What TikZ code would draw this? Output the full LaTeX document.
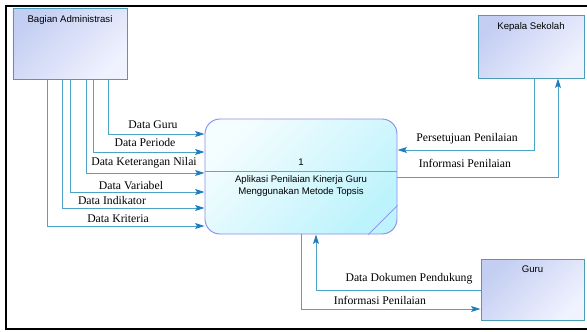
\documentclass[tikz,border=0pt]{standalone}
\usepackage{fontspec}
\setmainfont{Liberation Serif}
\setsansfont{Liberation Sans}
\usetikzlibrary{arrows.meta}

\definecolor{garis}{HTML}{4BA3C8}
\definecolor{panah}{HTML}{1F7DBF}
\definecolor{tepientitas}{HTML}{4A9DB5}
\definecolor{entitasatas}{HTML}{C3CEF2}
\definecolor{entitasbawah}{HTML}{F0F2FE}
\definecolor{tepiproses}{HTML}{8C8CE8}
\definecolor{prosesatas}{HTML}{F4FDFF}
\definecolor{prosesbawah}{HTML}{BDF3FC}

\tikzset{
  entitas/.style={draw=tepientitas, line width=0.8pt, inner sep=0pt,
    top color=entitasatas, bottom color=entitasbawah, shading angle=45},
  proses/.style={draw=tepiproses, line width=0.8pt, inner sep=0pt, rounded corners=0.45cm,
    top color=prosesatas, bottom color=prosesbawah, shading angle=45},
  judul/.style={font=\sffamily\fontsize{8.2}{9.6}\selectfont},
  alur/.style={draw=garis, line width=0.8pt,
    -{Stealth[length=8pt,width=5pt,inset=1.5pt,color=panah]}},
  lbl/.style={font=\fontsize{10}{12}\selectfont, anchor=base, inner sep=0pt},
}

\begin{document}
\begin{tikzpicture}[x=0.03cm, y=-0.03cm]
  \useasboundingbox (0,0) rectangle (587,331);
  \draw[line width=2pt] (587,6) -- (6,6) -- (6,329) -- (587,329);

  \node[entitas, minimum width=3.42cm, minimum height=2.13cm,
    label={[judul,anchor=north,yshift=-3pt]north:Bagian Administrasi}] (admin) at (70,43.5) {};
  \node[entitas, minimum width=3.18cm, minimum height=1.89cm,
    label={[judul,anchor=north,yshift=-3pt]north:Kepala Sekolah}] (kepsek) at (531,46.5) {};
  \node[entitas, minimum width=3.09cm, minimum height=1.83cm,
    label={[judul,anchor=north,yshift=-3pt]north:Guru}] (guru) at (532.5,289.5) {};

  \node[proses, minimum width=5.76cm, minimum height=3.45cm] (proses) at (301,176.5) {};
  \draw[tepiproses, line width=0.6pt] (proses.west |- 0,171) -- (proses.east |- 0,171);
  \draw[tepiproses, line width=0.6pt] ([xshift=-0.87cm]proses.south east) -- ([yshift=0.87cm]proses.south east);
  \node[judul] (nomor) at (301,162) {1};
  \node[judul, align=center] (namaproses) at (301,186)
    {Aplikasi Penilaian Kinerja Guru\\Menggunakan Metode Topsis};

  \foreach \x/\y/\lx/\by/\teks [count=\i] in {
      108/134/153/128.5/Data Guru,
      93/152/145/146.5/Data Periode,
      86/173/144/165/Data Keterangan Nilai,
      70/192/131/189/Data Variabel,
      62/208/112/204.5/Data Indikator,
      47/226/118/222.5/Data Kriteria} {
    \draw[alur] (\x,0 |- admin.south) |- (proses.west |- 0,\y);
    \node[lbl] (data\i) at (\lx,\by) {\teks};
  }

  \draw[alur] (534,0 |- kepsek.south) |- (proses.east |- 0,150);
  \node[lbl] (setuju) at (467,141.5) {Persetujuan Penilaian};
  \draw[alur] (proses.east |- 0,177) -| (558,0 |- kepsek.south);
  \node[lbl] (infokepsek) at (465,167.5) {Informasi Penilaian};

  \draw[alur] (guru.west |- 0,290) -| (316,0 |- proses.south);
  \node[lbl] (dokumen) at (409,281.5) {Data Dokumen Pendukung};
  \draw[alur] (301,0 |- proses.south) |- (guru.west |- 0,309);
  \node[lbl] (infoguru) at (380,304) {Informasi Penilaian};
\end{tikzpicture}
\end{document}
